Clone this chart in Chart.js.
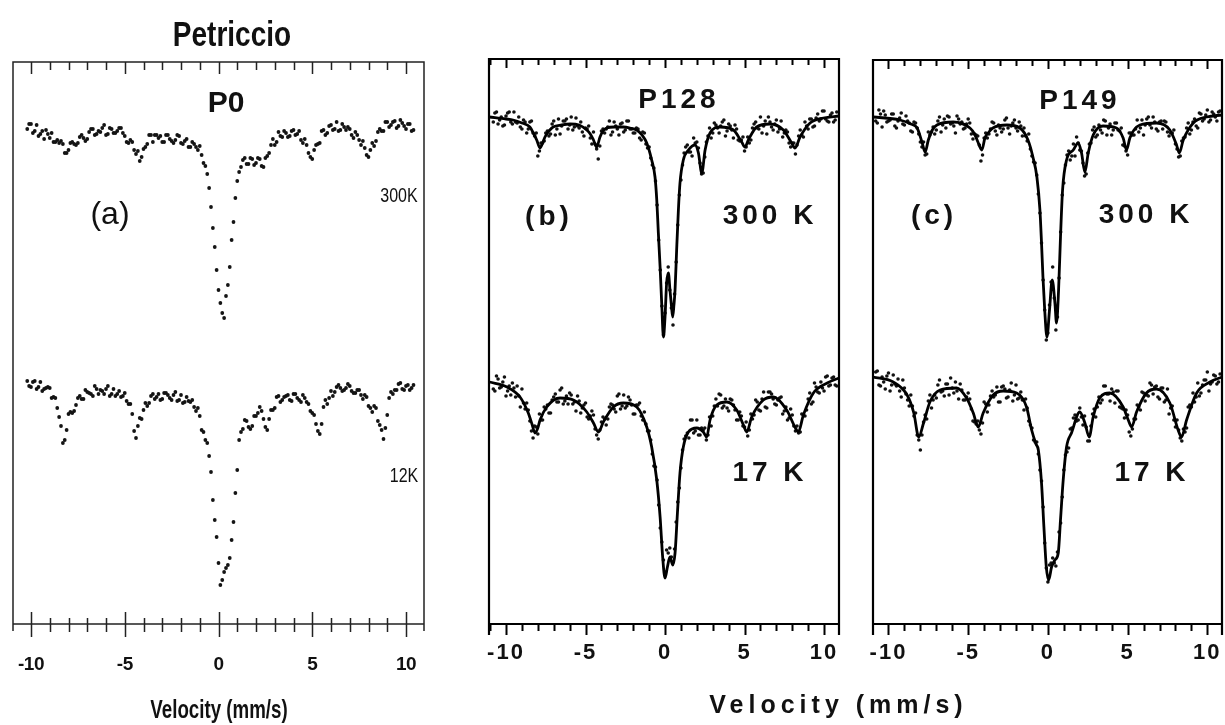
<!DOCTYPE html>
<html><head><meta charset="utf-8">
<script src="https://cdn.jsdelivr.net/npm/chart.js@4.4.1/dist/chart.umd.min.js"></script>
<style>
html,body{margin:0;padding:0;background:#fff;width:1225px;height:725px;overflow:hidden;position:relative;}
canvas{position:absolute;top:0;}
.t{position:absolute;transform:translate(-50%,-50%);white-space:nowrap;line-height:1;color:#111;font-family:'Liberation Sans',Arial,sans-serif;}
.nar{transform:translate(-50%,-50%) scaleX(0.8);}
.bb{font-weight:bold;font-size:28px;letter-spacing:4px;padding-left:4px;}
</style></head><body>
<canvas id="ca" width="531" height="725" style="left:-47px"></canvas>
<canvas id="cb" width="470" height="725" style="left:429px"></canvas>
<canvas id="cc" width="469" height="725" style="left:813px"></canvas>

<div class="t nar" style="left:232px;top:33px;font-size:35px;font-weight:bold;transform:translate(-50%,-50%) scaleX(0.8)">Petriccio</div>
<div class="t" style="left:226px;top:102px;font-size:30px;font-weight:bold">P0</div>
<div class="t" style="left:110px;top:213px;font-size:32px">(a)</div>
<div class="t nar" style="left:399px;top:195px;font-size:20px">300K</div>
<div class="t nar" style="left:404px;top:475px;font-size:20px">12K</div>
<div class="t" style="left:219px;top:709px;font-size:26px;font-weight:bold;transform:translate(-50%,-50%) scaleX(0.72)">Velocity (mm/s)</div>

<div class="t bb" style="left:677px;top:99px">P128</div>
<div class="t bb" style="left:547px;top:216px">(b)</div>
<div class="t bb" style="left:768px;top:215px">300 K</div>
<div class="t bb" style="left:768px;top:472px">17 K</div>
<div class="t bb" style="left:1078px;top:100px">P149</div>
<div class="t bb" style="left:932px;top:215px">(c)</div>
<div class="t bb" style="left:1144px;top:214px">300 K</div>
<div class="t bb" style="left:1150px;top:472px">17 K</div>
<div class="t bb" style="left:836px;top:704px;font-size:25px;letter-spacing:5px;padding-left:5px">Velocity (mm/s)</div>

<script>
// ---- tick labels ----
const xTickValues = [-10, -5, 0, 5, 10];

// ---- velocity channels (mm/s) ----
const velGrid = [-10.8,-10.6,-10.4,-10.2,-10.0,-9.8,-9.6,-9.4,-9.2,-9.0,-8.8,-8.6,-8.4,-8.2,-8.0,-7.8,-7.6,-7.4,-7.2,-7.0,-6.8,-6.6,-6.4,-6.2,-6.0,-5.8,-5.6,-5.4,-5.2,-5.0,-4.8,-4.6,-4.4,-4.2,-4.0,-3.8,-3.6,-3.4,-3.2,-3.0,-2.8,-2.6,-2.4,-2.2,-2.0,-1.8,-1.6,-1.4,-1.2,-1.0,-0.8,-0.6,-0.4,-0.2,0.0,0.2,0.4,0.6,0.8,1.0,1.2,1.4,1.6,1.8,2.0,2.2,2.4,2.6,2.8,3.0,3.2,3.4,3.6,3.8,4.0,4.2,4.4,4.6,4.8,5.0,5.2,5.4,5.6,5.8,6.0,6.2,6.4,6.6,6.8,7.0,7.2,7.4,7.6,7.8,8.0,8.2,8.4,8.6,8.8,9.0,9.2,9.4,9.6,9.8,10.0,10.2,10.4,10.6,10.8];
const velGrid2 = [-10.7,-10.5,-10.3,-10.1,-9.9,-9.7,-9.5,-9.3,-9.1,-8.9,-8.7,-8.5,-8.3,-8.1,-7.9,-7.7,-7.5,-7.3,-7.1,-6.9,-6.7,-6.5,-6.3,-6.1,-5.9,-5.7,-5.5,-5.3,-5.1,-4.9,-4.7,-4.5,-4.3,-4.1,-3.9,-3.7,-3.5,-3.3,-3.1,-2.9,-2.7,-2.5,-2.3,-2.1,-1.9,-1.7,-1.5,-1.3,-1.1,-0.9,-0.7,-0.5,-0.3,-0.1,0.1,0.3,0.5,0.7,0.9,1.1,1.3,1.5,1.7,1.9,2.1,2.3,2.5,2.7,2.9,3.1,3.3,3.5,3.7,3.9,4.1,4.3,4.5,4.7,4.9,5.1,5.3,5.5,5.7,5.9,6.1,6.3,6.5,6.7,6.9,7.1,7.3,7.5,7.7,7.9,8.1,8.3,8.5,8.7,8.9,9.1,9.3,9.5,9.7,9.9,10.1,10.3,10.5,10.7];
const velCenter = [-0.9,-0.7,-0.5,-0.3,-0.1,0.1,0.3,0.5,0.7,0.9,1.1];

// ---- (a) P0 measured points (relative transmission, offset, arb. units) ----
const a300 = [null,null,null,49.5,50.0,49.3,48.8,49.3,49.4,48.6,
48.2,48.4,48.3,47.1,47.4,48.2,47.9,48.7,48.6,48.5,
49.5,48.9,49.3,49.6,48.9,49.6,49.1,49.3,49.6,48.8,
48.1,48.2,47.0,46.3,47.5,48.0,48.9,48.9,48.6,48.2,
48.9,48.5,48.1,48.9,48.1,48.3,47.7,48.2,47.7,47.8,
46.1,45.0,41.7,37.7,33.4,31.1,32.8,35.7,40.2,44.3,
45.7,46.6,46.0,46.5,46.1,46.5,45.7,46.8,47.9,47.9,
49.2,48.7,49.1,48.8,49.4,49.0,48.4,48.5,47.1,46.5,
47.9,48.1,49.4,49.1,49.9,49.5,49.3,50.0,49.4,49.5,
48.6,48.9,47.9,47.6,46.7,48.1,48.3,49.5,49.3,50.2,
49.9,50.3,49.8,50.1,49.5,50.0,49.4,null,null];
const a300b = [null,null,null,50.0,49.1,49.9,49.0,48.5,49.0,49.1,
48.2,48.1,48.0,47.1,48.1,48.0,48.1,48.9,48.3,49.2,
49.5,49.0,49.2,49.9,49.0,49.5,49.1,49.6,49.1,48.2,
48.4,47.4,47.3,46.7,47.7,48.9,48.2,48.9,48.8,48.2,
48.9,48.3,48.4,48.8,48.0,48.5,47.7,48.0,47.4,null,
null,null,null,null,null,null,null,null,null,null,
46.4,46.0,46.6,45.9,46.6,45.8,46.6,47.1,48.5,48.2,
48.8,49.3,48.7,49.3,48.9,49.3,48.1,47.9,46.7,47.4,
48.0,49.3,48.9,49.8,49.4,50.2,49.4,49.7,49.7,48.9,
49.2,48.4,48.3,46.9,47.4,47.8,49.2,49.3,50.2,49.7,
50.2,49.6,50.4,49.8,50.0,49.3,null,null];
const a300c = [46.9,45.8,43.6,39.6,35.4,32.1,30.6,33.9,38.4,42.6,45.2];
const a12 = [null,null,null,24.3,23.7,24.3,23.7,23.3,23.6,23.6,
22.7,21.6,19.8,18.4,21.0,21.1,21.9,22.8,22.5,23.2,
23.0,23.8,23.0,23.3,23.5,22.8,23.5,23.0,22.7,23.1,
22.0,21.0,18.6,20.6,21.4,21.8,22.8,22.5,23.0,22.5,
23.1,22.6,22.9,22.3,22.9,22.2,22.3,22.4,21.3,20.8,
19.2,18.1,15.2,10.4,6.1,4.4,5.6,6.6,10.2,15.4,
19.2,20.4,19.7,19.8,20.8,21.7,20.5,19.4,21.4,21.6,
22.8,22.4,22.8,22.4,23.0,22.6,22.2,22.6,22.0,21.1,
20.0,19.0,21.7,22.0,23.3,23.2,23.9,23.3,23.6,23.8,
23.1,23.4,22.9,22.9,21.8,21.2,21.6,19.9,18.5,20.9,
23.2,23.4,24.0,23.5,23.8,23.4,23.9,null,null];
const a12b = [null,null,null,23.8,24.2,23.5,24.2,23.5,23.7,22.6,
22.6,20.7,18.1,19.4,21.2,21.3,22.6,22.5,23.4,23.1,
22.8,23.5,23.4,23.0,23.8,23.0,22.8,23.3,22.8,22.3,
22.0,19.3,19.8,20.5,22.1,22.1,23.0,22.7,22.4,23.1,
22.9,22.4,23.2,22.4,22.1,22.7,22.2,21.7,21.6,null,
null,null,null,null,null,null,null,null,null,null,
19.5,20.3,19.5,20.8,21.1,21.3,19.7,20.5,21.4,22.7,
22.2,22.7,22.9,22.3,23.0,22.4,22.9,22.2,21.3,20.9,
19.3,20.0,22.4,22.6,22.8,23.7,23.6,23.4,24.0,23.3,
23.1,23.4,22.5,22.7,21.6,21.8,20.3,19.4,19.6,22.6,
23.0,23.4,24.1,23.4,23.9,23.6,null,null];
const a12c = [19.4,18.4,16.8,12.4,8.7,3.9,5.2,5.9,8.4,13.1,18.4];

// ---- (b) P128 measured points ----
const b300 = [50.2,51.2,50.4,49.8,50.8,51.2,50.0,50.2,50.7,49.5,
50.2,49.5,50.3,48.8,46.8,48.1,48.3,49.3,49.0,50.3,
49.5,49.0,50.3,50.5,49.9,49.4,50.6,49.6,49.2,49.6,
49.8,48.0,48.0,46.5,49.3,49.1,49.7,48.9,50.2,49.5,
50.0,49.2,50.3,49.5,49.1,49.6,48.6,49.2,48.0,47.7,
45.9,44.3,38.4,31.8,31.1,35.7,31.6,33.0,39.9,44.4,
47.1,47.9,47.2,48.6,48.2,46.1,45.1,48.2,49.6,49.1,
49.9,49.1,50.2,48.8,50.0,49.4,49.9,48.4,48.4,47.3,
48.7,48.4,50.0,49.6,50.7,49.8,49.0,50.2,49.4,50.4,
49.5,48.7,49.4,48.1,48.1,47.0,48.8,48.9,50.2,49.5,
50.5,49.8,51.0,50.5,51.3,50.3,50.9,50.2,51.2];
const b300b = [51.1,50.0,50.7,49.9,51.1,50.2,51.2,50.1,49.7,50.4,
49.1,50.2,49.1,49.1,47.3,48.1,49.1,48.8,50.0,48.9,
50.5,49.8,50.3,49.5,50.7,49.7,49.8,50.2,48.8,49.5,
48.6,49.2,47.5,47.8,49.5,49.5,50.3,49.2,49.8,48.9,
50.1,49.4,50.3,49.5,49.1,49.5,48.4,49.1,47.6,null,
null,null,null,null,null,null,null,null,null,null,
47.7,47.2,46.8,48.1,47.6,45.0,46.7,48.8,48.6,50.1,
49.6,49.8,50.4,49.3,49.8,48.6,49.5,48.3,48.7,47.7,
48.1,49.6,50.2,49.5,49.1,50.3,50.7,49.7,50.0,49.2,
50.3,49.1,49.2,47.7,48.1,47.9,49.4,48.7,49.8,50.5,
49.7,50.6,50.3,51.3,50.5,50.2,51.1,50.4];
const b300c = [46.6,45.6,41.9,35.4,28.9,34.1,33.4,29.9,36.2,42.9,45.9];
const b17 = [23.5,24.8,23.6,24.2,22.8,23.8,24.1,22.7,22.8,23.5,
21.5,21.4,19.3,19.8,19.0,20.4,21.7,21.9,21.1,22.7,
22.2,23.4,22.0,22.8,23.1,22.0,21.3,22.3,21.6,22.1,
20.5,21.3,19.5,18.5,20.2,20.5,20.5,22.0,21.5,22.8,
21.5,22.9,21.8,22.4,21.0,21.9,22.1,20.4,20.0,19.3,
17.0,15.7,11.9,8.2,5.2,7.1,6.7,7.5,12.2,15.6,
18.5,19.1,20.4,19.1,20.4,18.9,19.4,18.4,20.7,20.8,
22.5,23.0,21.6,22.5,21.3,22.4,21.4,20.4,20.8,19.7,
18.8,21.0,20.9,22.2,21.3,23.2,21.6,23.2,22.5,21.9,
22.6,21.0,21.7,20.6,20.9,19.3,19.1,21.0,20.8,22.5,
22.0,24.1,23.2,24.2,23.3,24.8,23.9,24.7,23.8];
const b17b = [23.3,24.5,23.7,24.7,23.3,22.9,23.6,23.8,21.7,22.1,
22.1,20.3,18.6,19.7,21.0,20.4,21.5,21.1,22.4,23.0,
22.2,23.6,22.3,22.0,22.9,22.2,22.8,21.1,21.9,20.7,
20.8,20.9,18.9,19.4,20.7,19.9,21.7,21.9,21.2,23.0,
21.8,21.6,22.7,21.9,21.0,21.9,20.8,21.2,19.3,null,
null,null,null,null,null,null,null,null,null,null,
18.8,18.6,20.4,19.3,18.9,19.6,19.6,18.9,19.8,21.8,
21.8,22.9,21.8,21.6,22.5,21.9,20.4,21.2,19.8,20.2,
19.4,20.5,22.4,21.4,22.5,21.7,23.2,23.0,22.0,22.4,
22.7,21.3,20.4,21.5,19.8,19.8,19.2,20.9,21.4,23.1,
22.2,23.7,23.1,23.6,24.7,23.8,24.6,23.9];
const b17c = [18.4,15.8,14.4,9.6,6.4,7.4,7.6,6.2,10.2,13.6,17.4];

// ---- (b) fitted curves ----
const b300FitV = [-11.05,-10.0,-9.56,-9.0,-8.5,-8.25,-8.07,-7.86,-7.7,-7.55,-7.3,-7.04,-6.5,-5.97,-5.4,-4.92,-4.7,-4.5,-4.3,-4.09,-3.9,-3.67,-3.2,-2.62,-2.2,-1.78,-1.45,-1.15,-0.84,-0.63,-0.52,-0.42,-0.31,-0.21,-0.1,0.0,0.1,0.21,0.31,0.4,0.48,0.56,0.63,0.73,0.84,0.94,1.15,1.47,1.89,2.1,2.31,2.52,2.83,3.46,4.3,4.82,5.03,5.24,5.76,6.6,7.44,7.96,8.17,8.49,9.12,9.96,10.94];
const b300FitT = [50.7,50.5,50.4,50.1,49.7,49.0,48.4,47.6,48.1,48.7,49.3,49.7,49.9,50.0,49.9,49.4,49.0,48.4,47.7,48.7,49.3,49.6,49.7,49.7,49.6,49.4,48.9,48.1,46.4,44.7,42.4,39.1,35.7,32.1,28.7,30.7,34.1,35.1,33.4,31.9,30.7,31.9,33.4,37.4,41.4,44.1,46.4,47.4,47.9,47.1,45.1,47.4,49.1,49.7,49.4,48.2,47.7,48.4,49.7,50.0,49.4,48.1,47.6,48.7,50.1,50.6,50.8];
const b17FitV = [-11.05,-9.94,-9.12,-8.6,-8.35,-8.18,-8.0,-7.86,-7.44,-6.6,-5.76,-4.92,-4.5,-4.19,-3.88,-3.25,-2.62,-1.78,-1.15,-0.84,-0.52,-0.31,-0.15,0.0,0.15,0.31,0.48,0.63,0.78,0.94,1.15,1.47,2.0,2.41,2.62,2.83,3.25,3.88,4.51,4.93,5.14,5.45,6.18,6.81,7.65,8.17,8.38,8.7,9.33,10.2,10.94];
const b17FitT = [24.2,23.7,22.7,21.1,19.9,19.1,19.6,20.4,21.7,22.6,22.4,21.2,20.1,19.2,20.2,21.7,22.1,21.7,19.7,17.7,14.4,10.7,6.7,4.6,5.7,6.7,5.9,7.1,11.1,15.1,17.7,19.2,19.6,19.2,18.7,20.4,21.9,22.2,21.4,19.9,19.2,20.7,22.4,22.7,21.4,19.7,19.2,20.9,23.1,24.1,24.6];

// ---- (c) P149 measured points ----
const c300 = [50.3,51.4,49.7,50.9,50.3,51.0,49.8,50.3,51.1,49.9,
50.3,49.3,50.2,49.6,48.2,48.2,47.0,48.9,49.7,49.4,
50.7,49.9,49.6,50.7,50.1,49.1,50.5,50.2,49.6,50.5,
49.0,49.0,48.8,46.3,48.6,48.6,49.5,50.1,48.9,49.6,
49.5,50.6,49.0,50.1,49.6,50.2,48.8,48.8,49.0,46.8,
46.1,43.0,38.1,31.4,29.1,34.2,32.6,30.7,39.2,44.1,
46.9,46.4,48.0,48.7,47.4,46.1,45.0,48.0,49.4,48.7,
49.9,49.1,50.3,49.6,48.9,50.1,49.4,49.6,47.8,46.9,
49.1,48.9,50.4,49.6,48.9,50.5,49.9,50.7,49.5,50.2,
49.5,50.2,48.8,49.1,48.0,46.7,48.3,48.7,50.1,49.4,
50.5,49.6,51.0,50.5,51.4,50.4,51.0,50.3,51.3];
const c300b = [50.1,51.0,51.3,50.2,50.4,51.0,49.6,50.6,50.0,50.8,
50.1,49.2,50.1,49.0,47.7,46.9,49.2,49.2,49.0,50.3,
49.2,50.5,50.8,50.0,49.8,50.8,50.0,49.5,50.0,50.1,
48.5,48.9,47.9,46.9,49.1,49.0,50.2,49.3,49.9,49.2,
50.4,49.6,49.8,50.4,49.3,49.8,49.6,48.3,47.5,null,
null,null,null,null,null,null,null,null,null,null,
47.3,46.8,46.8,48.1,47.3,44.8,47.1,48.1,49.7,48.9,
49.4,50.4,48.9,50.0,49.4,50.1,49.3,47.9,47.3,49.1,
48.9,49.5,49.2,50.4,49.9,50.7,49.6,50.2,49.3,50.3,
50.3,49.2,49.1,49.4,47.5,46.8,48.6,49.6,49.0,50.2,
49.8,51.1,50.3,50.9,50.2,51.2,50.7,51.2];
const c300c = [46.2,44.9,41.1,34.4,28.4,31.9,35.7,29.4,34.6,42.9,45.9];
const c17 = [25.2,23.9,24.7,23.5,25.1,23.9,24.0,24.5,22.7,23.6,
22.4,22.9,20.8,18.9,17.4,20.2,20.5,22.9,22.4,22.6,
24.4,23.3,24.0,22.9,23.6,24.2,22.5,23.4,22.4,23.1,
21.5,20.2,20.3,19.0,22.2,21.2,22.8,22.7,23.7,22.2,
23.8,22.6,23.4,22.3,23.9,22.6,22.4,22.5,20.3,19.6,
18.2,17.0,14.3,8.1,4.2,6.1,6.1,7.2,10.1,15.4,
17.2,19.5,20.6,20.3,21.6,19.9,19.7,18.3,21.0,20.7,
22.7,22.4,23.8,23.0,23.5,22.1,23.3,21.6,20.6,20.9,
18.8,20.5,21.9,21.4,23.1,22.9,24.1,23.0,23.8,22.5,
23.6,22.4,21.0,21.8,19.7,19.4,18.3,19.2,21.7,21.7,
22.2,24.1,23.1,24.4,25.2,24.0,24.9,24.0,25.0];
const c17b = [25.3,23.8,24.2,24.8,23.3,24.9,23.8,23.3,24.4,23.0,
21.8,21.8,21.1,18.4,18.9,20.9,22.3,21.6,22.9,23.9,
23.2,22.8,24.0,24.6,23.1,23.3,24.0,22.4,22.7,22.5,
20.3,20.0,19.4,20.1,22.0,21.9,23.3,22.9,22.2,23.7,
23.5,22.7,24.1,22.9,22.5,23.2,21.4,21.6,19.9,null,
null,null,null,null,null,null,null,null,null,null,
17.6,19.6,20.9,20.4,20.7,20.8,18.3,19.8,21.5,21.7,
22.1,23.8,23.0,22.3,23.2,23.3,21.7,21.5,21.4,19.2,
19.5,20.5,21.7,23.2,22.3,22.8,23.9,23.7,22.7,23.6,
22.2,23.5,21.6,20.4,20.4,18.6,19.5,19.6,21.9,23.1,
22.7,22.8,23.9,24.4,23.3,24.2,24.8,24.2];
const c17c = [18.4,18.2,15.4,11.7,5.6,5.9,6.6,5.8,9.2,12.7,16.9];

// ---- (c) fitted curves ----
const c300FitV = [-10.97,-9.28,-8.6,-8.2,-7.9,-7.7,-7.5,-7.25,-6.96,-5.94,-4.89,-4.6,-4.39,-4.14,-3.95,-3.7,-3.45,-2.57,-1.76,-1.25,-0.94,-0.69,-0.5,-0.4,-0.31,-0.2,-0.06,0.1,0.27,0.44,0.54,0.67,0.79,0.92,1.17,1.59,1.9,2.11,2.32,2.53,2.84,3.46,4.3,4.72,4.93,5.14,5.4,5.77,6.81,7.65,8.07,8.24,8.49,9.12,9.96,10.92];
const c300FitT = [50.7,50.4,50.0,49.6,48.2,47.2,48.4,49.4,49.9,50.2,49.6,49.0,48.2,47.4,48.6,49.2,49.6,49.9,49.6,48.4,46.7,44.7,41.4,38.1,34.7,31.4,28.7,31.4,34.4,32.1,30.1,33.4,38.7,43.4,46.4,47.4,48.1,47.1,45.2,47.1,48.9,49.8,49.6,48.6,47.4,48.6,49.4,49.9,50.1,49.4,47.9,47.1,48.4,50.1,50.7,50.9];
const c17FitV = [-10.97,-9.7,-8.83,-8.41,-8.1,-7.8,-7.4,-6.77,-5.73,-5.1,-4.68,-4.37,-4.06,-3.43,-2.8,-1.96,-1.34,-1.02,-0.75,-0.6,-0.4,-0.25,-0.1,0.05,0.23,0.44,0.65,0.79,0.96,1.17,1.48,2.0,2.32,2.59,2.84,3.25,3.88,4.72,5.04,5.25,5.56,6.18,6.81,7.65,8.17,8.38,8.7,9.33,10.17,10.92];
const c17FitT = [24.7,24.2,22.9,21.1,18.7,20.1,22.2,23.4,23.6,22.6,21.1,19.7,21.1,22.9,23.3,23.1,21.7,19.4,18.0,17.4,14.1,9.7,5.7,4.4,5.7,6.4,7.1,10.4,14.4,17.7,19.1,21.2,20.1,18.7,20.7,22.6,23.1,21.7,20.4,19.7,21.2,23.1,23.5,22.1,19.4,18.7,20.4,23.1,24.2,24.7];

// ---------------------------------------------------------------
function pts(xs, ys) {
  const out = [];
  for (let i = 0; i < xs.length; i++) if (ys[i] !== null) out.push({x: xs[i], y: ys[i]});
  return out;
}

const framePlugin = {
  id: 'frame',
  beforeDraw(chart, args, o) { if (o.ls) chart.ctx.letterSpacing = o.ls; },
  afterDraw(chart, args, o) {
    const ctx = chart.ctx;
    ctx.letterSpacing = '0px';
    const {left, right, top, bottom} = chart.chartArea;
    const x = chart.scales.x;
    ctx.save();
    ctx.strokeStyle = o.color;
    ctx.lineWidth = o.lw;
    ctx.lineCap = 'butt';
    ctx.beginPath();
    ctx.moveTo(left, bottom + o.ext); ctx.lineTo(left, top);
    ctx.lineTo(right, top); ctx.lineTo(right, bottom + o.ext);
    ctx.moveTo(left, bottom); ctx.lineTo(right, bottom);
    ctx.stroke();
    ctx.lineWidth = o.tw;
    ctx.beginPath();
    for (let v = Math.ceil(x.min); v <= x.max; v += 1) {
      const px = Math.round(x.getPixelForValue(v)) + 0.5;
      const major = v % 5 === 0;
      ctx.moveTo(px, top);
      ctx.lineTo(px, top + (major ? o.topMajor : o.topMinor));
      const up = major ? o.botMajorUp : o.botMinorUp;
      const dn = major ? o.botMajorDn : o.botMinorDn;
      ctx.moveTo(px, bottom - up);
      ctx.lineTo(px, bottom + dn);
    }
    ctx.stroke();
    ctx.restore();
  }
};

function makeChart(id, xmin, xmax, frameTop, datasets, tickFont, tickPad, frameOpts) {
  return new Chart(document.getElementById(id), {
    type: 'scatter',
    data: {datasets},
    options: {
      responsive: false,
      animation: false,
      devicePixelRatio: 1,
      layout: {padding: {left: 60, right: 60, top: frameTop, bottom: 0}},
      plugins: {legend: {display: false}, tooltip: {enabled: false}, frame: frameOpts},
      scales: {
        x: {
          type: 'linear', position: 'bottom', min: xmin, max: xmax,
          grid: {display: false, drawTicks: false},
          border: {display: false},
          ticks: {padding: tickPad, font: tickFont, color: '#111', maxRotation: 0, autoSkip: false},
          afterBuildTicks: s => { s.ticks = xTickValues.map(v => ({value: v})); },
          afterFit: s => { s.height = 101; }
        },
        y: {display: false, min: 0, max: (624 - frameTop) / 10}
      }
    },
    plugins: [framePlugin]
  });
}

const dotA = {pointRadius: 1.9, pointBackgroundColor: '#141414', pointBorderWidth: 0, showLine: false};
const dotB = {pointRadius: 1.8, pointBackgroundColor: '#111', pointBorderWidth: 0, showLine: false};
const fitStyle = {showLine: true, pointRadius: 0, borderColor: '#000', borderWidth: 2.8, cubicInterpolationMode: 'monotone', fill: false};

function spectrum(ys1, ys2, ysC, style) {
  return Object.assign({data: pts(velGrid, ys1).concat(pts(velGrid2, ys2), pts(velCenter, ysC))}, style);
}

makeChart('ca', -10.96, 10.96, 62, [
  spectrum(a300, a300b, a300c, dotA),
  spectrum(a12, a12b, a12c, dotA)
], {family: "'Liberation Sans', Arial, sans-serif", size: 19, weight: 'bold'}, 29,
{color: '#222', lw: 1.5, tw: 1.5, ext: 7, topMajor: 12, topMinor: 8, botMajorUp: 12, botMajorDn: 13, botMinorUp: 6, botMinorDn: 8, ls: '-0.5px'});

const boldTick = {family: "'Liberation Sans', Arial, sans-serif", size: 22, weight: 'bold'};
const frameBC = {color: '#000', lw: 2.2, tw: 2, ext: 11, topMajor: 9, topMinor: 6, botMajorUp: 0, botMajorDn: 11, botMinorUp: 0, botMinorDn: 7, ls: '2px'};

makeChart('cb', -11.07, 10.94, 59, [
  Object.assign({data: pts(b300FitV, b300FitT)}, fitStyle),
  Object.assign({data: pts(b17FitV, b17FitT)}, fitStyle),
  spectrum(b300, b300b, b300c, dotB),
  spectrum(b17, b17b, b17c, dotB)
], boldTick, 16, frameBC);

makeChart('cc', -10.97, 10.92, 60, [
  Object.assign({data: pts(c300FitV, c300FitT)}, fitStyle),
  Object.assign({data: pts(c17FitV, c17FitT)}, fitStyle),
  spectrum(c300, c300b, c300c, dotB),
  spectrum(c17, c17b, c17c, dotB)
], boldTick, 16, frameBC);
</script>
</body></html>
